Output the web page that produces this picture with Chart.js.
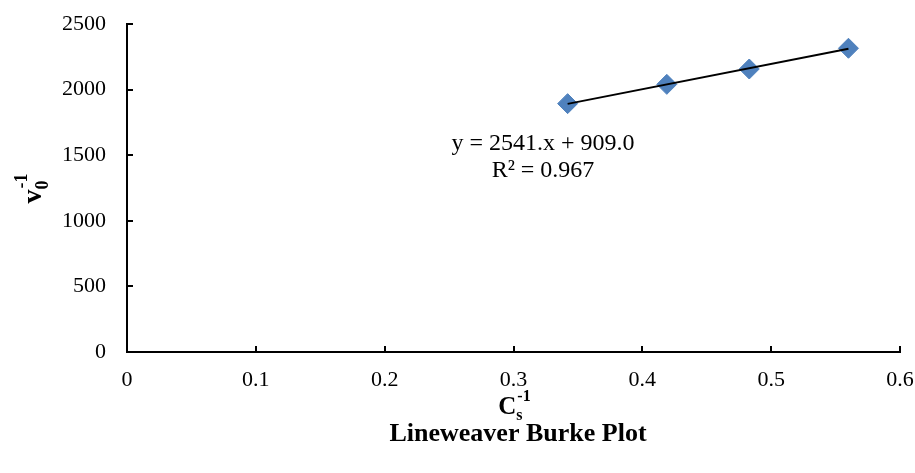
<!DOCTYPE html>
<html>
<head>
<meta charset="utf-8">
<script src="https://cdn.jsdelivr.net/npm/chart.js@4"></script>
<style>
  html, body { margin: 0; padding: 0; background: #fff; }
  #wrap { width: 915px; height: 473px; position: relative; }
</style>
</head>
<body>
<div id="wrap"><canvas id="lbChart"></canvas></div>
<script>
// data
var invSubstrate = [0.342, 0.419, 0.483, 0.560];
var invVelocity = [1893, 2040, 2157, 2315];
var xTicks = [0, 0.1, 0.2, 0.3, 0.4, 0.5, 0.6];
var yTicks = [0, 500, 1000, 1500, 2000, 2500];
var fitLabel = ['y = 2541.x + 909.0', 'R\u00b2 = 0.967'];

// least squares trendline through the points
function linFit(xs, ys) {
    var n = xs.length, sx = 0, sy = 0, sxx = 0, sxy = 0;
    for (var i = 0; i < n; i++) {
        sx += xs[i]; sy += ys[i]; sxx += xs[i] * xs[i]; sxy += xs[i] * ys[i];
    }
    var m = (n * sxy - sx * sy) / (n * sxx - sx * sx);
    return { m: m, b: (sy - m * sx) / n };
}
var fit = linFit(invSubstrate, invVelocity);
var xMin = Math.min.apply(null, invSubstrate), xMax = Math.max.apply(null, invSubstrate);
var trend = [{ x: xMin, y: fit.m * xMin + fit.b }, { x: xMax, y: fit.m * xMax + fit.b }];

var serif = '"Liberation Serif", "Times New Roman", serif';

// text with a subscript and a superscript after the main letter, centred on cx
function subSup(c, main, sub, sup, cx, base, big, small) {
    c.font = 'bold ' + big + 'px ' + serif;
    var mw = c.measureText(main).width;
    c.font = 'bold ' + small + 'px ' + serif;
    var sw = Math.max(c.measureText(sub).width, c.measureText(sup).width);
    var x0 = cx - (mw + sw) / 2;
    c.textAlign = 'left';
    c.font = 'bold ' + big + 'px ' + serif;
    c.fillText(main, x0, base);
    c.font = 'bold ' + small + 'px ' + serif;
    c.fillText(sub, x0 + mw, base + small * 0.38);
    c.fillText(sup, x0 + mw + 1, base - small * 0.8);
}

// inward tick marks, axis titles, trendline text, chart title
var extras = {
    id: 'extras',
    afterDraw: function (chart) {
        var c = chart.ctx, a = chart.chartArea;
        var xs = chart.scales.x, ys = chart.scales.y;
        c.save();
        c.strokeStyle = '#000';
        c.lineWidth = 2;
        xTicks.forEach(function (v) {
            var px = Math.round(xs.getPixelForValue(v));
            c.beginPath(); c.moveTo(px, a.bottom); c.lineTo(px, a.bottom - 6); c.stroke();
        });
        yTicks.forEach(function (v) {
            var py = Math.round(ys.getPixelForValue(v));
            c.beginPath(); c.moveTo(a.left, py); c.lineTo(a.left + 6, py); c.stroke();
        });

        c.fillStyle = '#000';
        c.textBaseline = 'alphabetic';

        // trendline equation
        c.font = '24px ' + serif;
        c.textAlign = 'center';
        c.fillText(fitLabel[0], 543, 150);
        c.fillText(fitLabel[1], 543, 177);

        // x axis title
        subSup(c, 'C', 's', '-1', 514, 414, 25, 16);

        // chart title
        c.textAlign = 'center';
        c.font = 'bold 26px ' + serif;
        c.fillText('Lineweaver Burke Plot', 518, 441);

        // y axis title
        c.translate(41, 189);
        c.rotate(-Math.PI / 2);
        subSup(c, 'v', '0', '-1', 0, 0, 28, 18);
        c.restore();
    }
};

var ctx = document.getElementById('lbChart').getContext('2d');
var chart = new Chart(ctx, {
    type: 'scatter',
    data: {
        datasets: [{
            label: 'points',
            data: invSubstrate.map(function (x, i) { return { x: x, y: invVelocity[i] }; }),
            pointStyle: 'rectRot',
            pointRadius: 10,
            backgroundColor: '#4F81BD',
            borderColor: '#4F81BD',
            borderWidth: 1,
            order: 2
        }, {
            label: 'trend',
            type: 'line',
            data: trend,
            borderColor: '#000',
            borderWidth: 2,
            pointRadius: 0,
            fill: false,
            order: 1
        }]
    },
    options: {
        responsive: true,
        maintainAspectRatio: false,
        animation: false,
        layout: { padding: { top: 24, right: 15, left: 0, bottom: 0 } },
        plugins: {
            legend: { display: false },
            tooltip: { enabled: false }
        },
        scales: {
            x: {
                type: 'linear',
                min: 0, max: 0.6,
                afterBuildTicks: function (s) { s.ticks = xTicks.map(function (v) { return { value: v }; }); },
                afterFit: function (s) { s.height = 121; s.paddingLeft = 0; s.paddingRight = 0; },
                grid: { display: false, drawTicks: false },
                border: { display: true, color: '#000', width: 2 },
                ticks: {
                    padding: 15,
                    color: '#000',
                    font: { family: serif, size: 22 },
                    maxRotation: 0,
                    callback: function (v) { return String(+v.toFixed(1)); }
                }
            },
            y: {
                type: 'linear',
                min: 0, max: 2500,
                afterBuildTicks: function (s) { s.ticks = yTicks.map(function (v) { return { value: v }; }); },
                afterFit: function (s) { s.width = 127; s.paddingTop = 0; s.paddingBottom = 0; },
                grid: { display: false, drawTicks: false },
                border: { display: true, color: '#000', width: 2 },
                ticks: {
                    padding: 21,
                    color: '#000',
                    font: { family: serif, size: 22 },
                    callback: function (v) { return String(v); }
                }
            }
        }
    },
    plugins: [extras]
});
</script>
</body>
</html>
